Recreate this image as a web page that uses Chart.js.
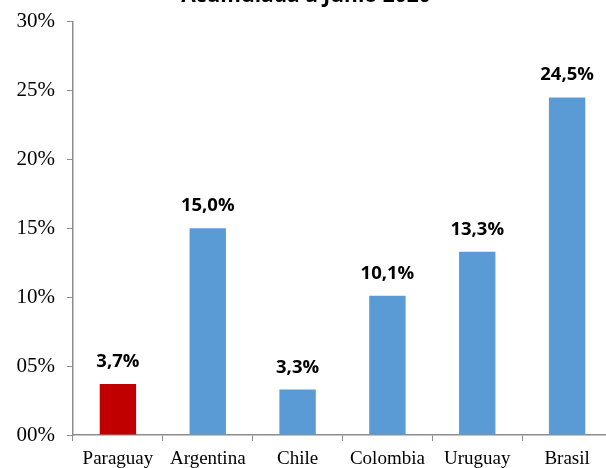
<!DOCTYPE html>
<html>
<head>
<meta charset="utf-8">
<script src="https://cdn.jsdelivr.net/npm/chart.js@4"></script>
<style>
  html, body { margin: 0; padding: 0; background: #fff; overflow: hidden; }
  #wrap { position: relative; width: 612px; height: 471px; margin-top: -3px; }
</style>
</head>
<body>
<div id="wrap"><canvas id="grafico"></canvas></div>
<script>
// datos
const paises = ['Paraguay', 'Argentina', 'Chile', 'Colombia', 'Uruguay', 'Brasil'];
const variacion = [3.7, 15.0, 3.3, 10.1, 13.3, 24.5];
const colores = ['#C00000', '#5B9BD5', '#5B9BD5', '#5B9BD5', '#5B9BD5', '#5B9BD5'];
const titulo = 'Acumulada a Junio 2020';

const etiquetasPlugin = {
  id: 'etiquetas',
  afterDatasetsDraw(chart) {
    const ctx = chart.ctx;
    const meta = chart.getDatasetMeta(0);
    ctx.save();
    ctx.font = 'bold 18.5px "Open Sans", sans-serif';
    ctx.fillStyle = '#000';
    ctx.textAlign = 'center';
    ctx.textBaseline = 'alphabetic';
    meta.data.forEach((bar, i) => {
      const txt = variacion[i].toFixed(1).replace('.', ',') + '%';
      ctx.fillText(txt, bar.x, bar.y - 17);
    });
    // titulo cortado arriba
    ctx.font = 'bold 21px "Open Sans", sans-serif';
    ctx.fillText(titulo, 306, 5);
    ctx.restore();
  }
};

new Chart(document.getElementById('grafico').getContext('2d'), {
  type: 'bar',
  data: {
    labels: paises,
    datasets: [{
      data: variacion,
      backgroundColor: colores,
      categoryPercentage: 1,
      barPercentage: 0.405
    }]
  },
  options: {
    responsive: true,
    maintainAspectRatio: false,
    animation: false,
    layout: { padding: { top: 17, left: 0, right: 0, bottom: 0 } },
    plugins: {
      legend: { display: false },
      tooltip: { enabled: false }
    },
    scales: {
      y: {
        min: 0,
        max: 30,
        afterFit(scale) { scale.width = 73; },
        ticks: {
          stepSize: 5,
          padding: 12,
          color: '#000',
          font: { family: '"Liberation Serif", serif', size: 21 },
          callback: (v) => String(v).padStart(2, '0') + '%'
        },
        grid: { drawOnChartArea: false, drawTicks: true, tickLength: 6, color: '#8c8c8c' },
        border: { color: '#8c8c8c', width: 1.5 }
      },
      x: {
        afterFit(scale) { scale.height = 33; },
        ticks: {
          padding: 7,
          color: '#000',
          font: { family: '"Liberation Serif", serif', size: 19 }
        },
        grid: { drawOnChartArea: false, drawTicks: true, tickLength: 6, color: '#8c8c8c', offset: true },
        border: { color: '#8c8c8c', width: 1.5 }
      }
    }
  },
  plugins: [etiquetasPlugin]
});
</script>
</body>
</html>
